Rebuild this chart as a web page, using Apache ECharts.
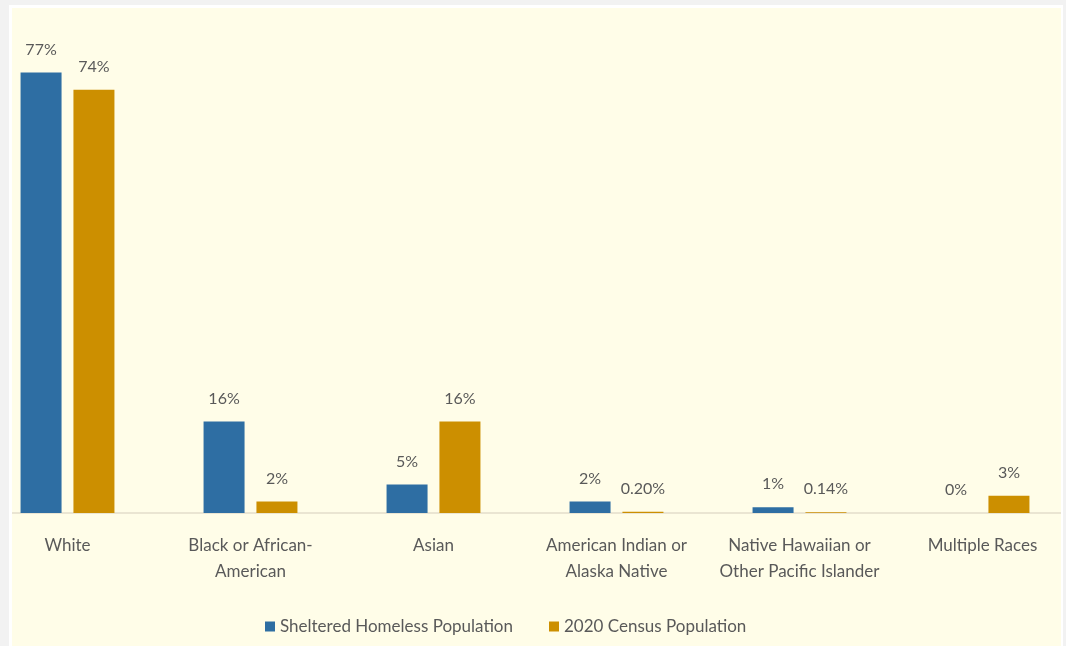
<!DOCTYPE html>
<html>
<head>
<meta charset="utf-8">
<script src="https://cdn.jsdelivr.net/npm/echarts@6/dist/echarts.min.js"></script>
<style>
  html, body { margin: 0; padding: 0; background: #f2f2f2; width: 1066px; height: 646px; overflow: hidden; }
  #frame { position: absolute; left: 9px; top: 5px; width: 1054px; height: 641px; background: #ffffff; }
  #panel { position: absolute; left: 12px; top: 8px; width: 1049px; height: 638px; background: #fffde8; overflow: hidden; }
  #chart { position: absolute; left: -36px; top: 0; width: 1098px; height: 638px; }
</style>
</head>
<body>
<div id="frame"></div>
<div id="panel"><div id="chart"></div></div>
<script>
const categories = ['White', 'Black or African-\nAmerican', 'Asian', 'American Indian or\nAlaska Native', 'Native Hawaiian or\nOther Pacific Islander', 'Multiple Races'];
const seriesNames = ['Sheltered Homeless Population', '2020 Census Population'];
const shelteredValues = [77, 16, 5, 2, 1, 0];
const censusValues = [74, 2, 16, 0.2, 0.14, 3];
const shelteredLabels = ['77%', '16%', '5%', '2%', '1%', '0%'];
const censusLabels = ['74%', '2%', '16%', '0.20%', '0.14%', '3%'];

const FONT = 'Lato';
const TEXT = '#595959';

const chart = echarts.init(document.getElementById('chart'), null, { renderer: 'canvas' });
chart.setOption({
  animation: false,
  backgroundColor: 'transparent',
  textStyle: { fontFamily: FONT },
  grid: { left: 0, right: 0, top: 47.4, bottom: 133, containLabel: false },
  legend: {
    left: 284, top: 605,
    itemWidth: 10, itemHeight: 10, itemGap: 36,
    icon: 'rect',
    textStyle: { color: TEXT, fontSize: 17, fontFamily: FONT },
    data: seriesNames
  },
  xAxis: {
    type: 'category',
    data: categories,
    axisLine: { show: true, lineStyle: { color: '#e3dccb', width: 1.5 } },
    axisTick: { show: false },
    axisLabel: { color: TEXT, fontSize: 17, fontFamily: FONT, lineHeight: 26, margin: 20, interval: 0 }
  },
  yAxis: {
    type: 'value', min: 0, max: 80,
    show: false,
    splitLine: { show: false }
  },
  series: [
    {
      name: seriesNames[0], type: 'bar', data: shelteredValues,
      barWidth: 41, barGap: '29%',
      itemStyle: { color: '#2e6ea3' },
      label: { show: true, position: 'top', distance: 15, color: TEXT, fontSize: 16, fontFamily: FONT,
        formatter: p => shelteredLabels[p.dataIndex] }
    },
    {
      name: seriesNames[1], type: 'bar', data: censusValues,
      barWidth: 41, barGap: '29%',
      itemStyle: { color: '#cc8f00' },
      label: { show: true, position: 'top', distance: 15, color: TEXT, fontSize: 16, fontFamily: FONT,
        formatter: p => censusLabels[p.dataIndex] }
    }
  ]
});
</script>
</body>
</html>
